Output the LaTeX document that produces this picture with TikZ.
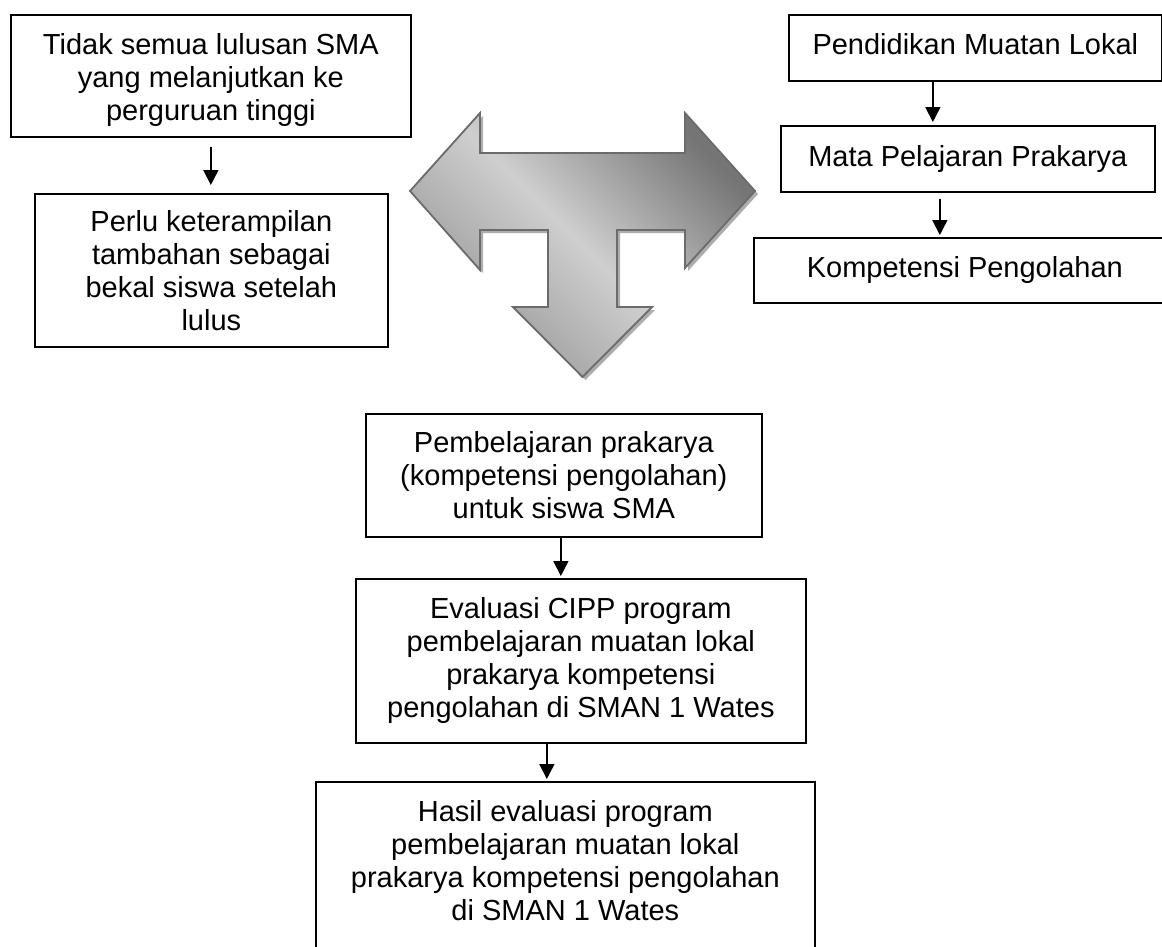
\documentclass[tikz,border=0pt]{standalone}
\usepackage{fontspec}
\setmainfont{Liberation Sans}
\usetikzlibrary{arrows.meta}

\def\fsz{29}

\begin{document}
\begin{tikzpicture}[x=1pt, y=-1pt, line width=1.7pt]
    \tikzstyle{kotak}=[draw, anchor=north west, align=center, inner sep=0pt, font=\fontsize{\fsz}{33}\selectfont]
    \tikzstyle{panah}=[-{Triangle[width=15pt,length=15pt]}, line width=1.6pt, shorten >=3pt]
    \tikzstyle{tarrow}=[draw=black!58, line width=1.8pt, line join=miter,
        top color=black!54, bottom color=black!42, middle color=black!19, shading angle=-45,
        preaction={fill=black!32, transform canvas={xshift=3pt, yshift=-3pt}}]

    \clip (0,0) rectangle (1162,946);
    \fill[white] (0,0) rectangle (1162,946);

    % Draw the left column
    \node[kotak, minimum width=400, minimum height=122, text height=95pt] (tidak) at (10,14)
        {Tidak semua lulusan SMA\\yang melanjutkan ke\\perguruan tinggi};
    \node[kotak, minimum width=353, minimum height=153] (perlu) at (34,193)
        {Perlu keterampilan\\tambahan sebagai\\bekal siswa setelah\\lulus};

    % Draw the right column
    \node[kotak, minimum width=373, minimum height=66, text depth=7pt] (mulok) at (788,14)
        {Pendidikan Muatan Lokal};
    \node[kotak, minimum width=374, minimum height=66] (mapel) at (780,125)
        {Mata Pelajaran Prakarya};
    \node[kotak, minimum width=422, minimum height=65] (komp) at (753,237)
        {Kompetensi Pengolahan};

    % Draw the bottom column
    \node[kotak, minimum width=396, minimum height=123] (belajar) at (365,413)
        {Pembelajaran prakarya\\(kompetensi pengolahan)\\untuk siswa SMA};
    \node[kotak, minimum width=450, minimum height=164] (eval) at (355,578)
        {Evaluasi CIPP program\\pembelajaran muatan lokal\\prakarya kompetensi\\pengolahan di SMAN 1 Wates};
    \node[kotak, minimum width=499, minimum height=172, text depth=14pt] (hasil) at (315,781)
        {Hasil evaluasi program\\pembelajaran muatan lokal\\prakarya kompetensi pengolahan\\di SMAN 1 Wates};

    % Connect the boxes
    \draw[panah, shorten <=9pt, shorten >=8pt] (tidak.south) -- (tidak.south |- perlu.north);
    \draw[panah] ([xshift=-42.5pt]mulok.south) -- ([xshift=-42.5pt]mulok.south |- mapel.north);
    \draw[panah, shorten <=6pt, shorten >=2pt] ([xshift=-28pt]mapel.south) -- ([xshift=-28pt]mapel.south |- komp.north);
    \draw[panah, shorten >=2pt] ([xshift=-3pt]belajar.south) -- ([xshift=-3pt]belajar.south |- eval.north);
    \draw[panah, shorten >=2pt] ([xshift=-34pt]eval.south) -- ([xshift=-34pt]eval.south |- hasil.north);

    % The big three-way arrow
    \path[tarrow] (410,191) -- (480,113) -- (480,153) -- (685,153) -- (685,113)
        -- (755,191) -- (685,268) -- (685,230) -- (617,230) -- (617,307)
        -- (652,307) -- (582.5,377) -- (513,307) -- (548,307) -- (548,230)
        -- (480,230) -- (480,270) -- cycle;
\end{tikzpicture}
\end{document}
